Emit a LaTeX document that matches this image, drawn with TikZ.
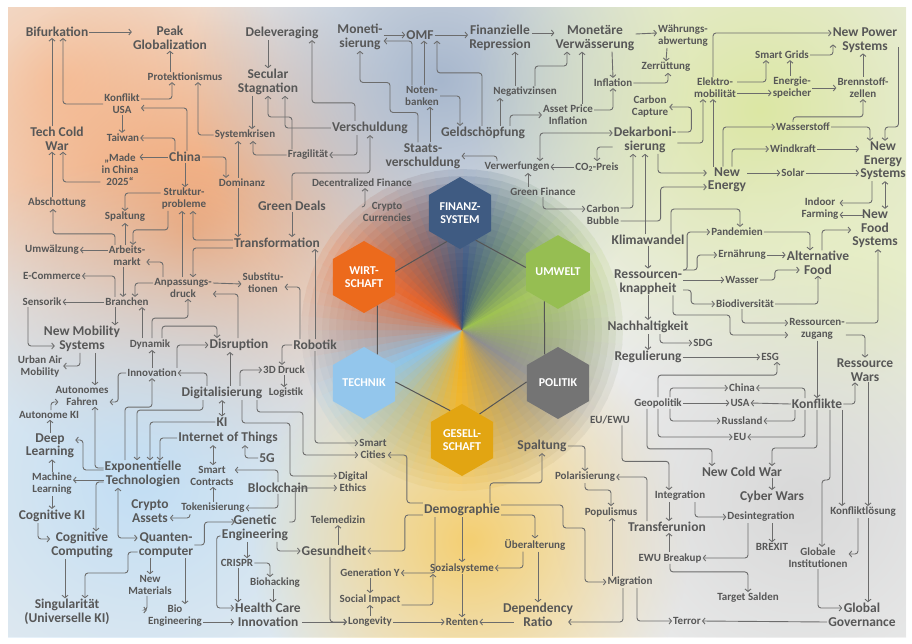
\documentclass[tikz,border=0pt]{standalone}
\usepackage{fontspec}
\setmainfont{Carlito}
\usetikzlibrary{arrows.meta,shapes.geometric,fadings}
\definecolor{txtc}{HTML}{575757}
\definecolor{linec}{HTML}{6C6C6C}
\definecolor{ringc}{HTML}{555555}
\definecolor{bgbase}{HTML}{EDEEEE}
\definecolor{pchc}{HTML}{F6C7A6}
\definecolor{orgc}{HTML}{F2A06A}
\definecolor{bgrc}{HTML}{A7B7CD}
\definecolor{ylgc}{HTML}{DCE7A4}
\definecolor{plgc}{HTML}{E6EEC4}
\definecolor{lblc}{HTML}{C2DEF4}
\definecolor{ylwc}{HTML}{F4CF72}
\definecolor{gryc}{HTML}{D8D8D8}
\definecolor{finc}{HTML}{3F5B82}
\definecolor{wirtc}{HTML}{EC6A1C}
\definecolor{umwc}{HTML}{96BE52}
\definecolor{techc}{HTML}{93C6EC}
\definecolor{polc}{HTML}{747474}
\definecolor{gesc}{HTML}{E2A512}
\definecolor{sbblue}{HTML}{2E4B78}
\definecolor{sbgreen}{HTML}{9CC24A}
\definecolor{sbgrey}{HTML}{8C8C8C}
\definecolor{sbyellow}{HTML}{F2B21A}
\definecolor{sblblue}{HTML}{86C3EC}
\definecolor{sborange}{HTML}{EC5A1A}
\newcommand{\smfont}{\fontsize{11}{12}\selectfont\bfseries}
\newcommand{\lgfont}{\fontsize{13.5}{13.5}\selectfont\bfseries}
\newcommand{\hxfont}{\fontsize{12}{12.5}\selectfont\bfseries}
\tikzfading[name=blobfade, inner color=transparent!0, outer color=transparent!100]

\begin{document}
\begin{tikzpicture}[x=1pt,y=-1pt,>={Straight Barb[length=2.5pt,width=6pt]},
	sml/.style={font=\smfont, text=txtc, align=center, inner sep=1pt},
	lrg/.style={font=\lgfont, text=txtc, align=center, inner sep=1pt},
	arr/.style={draw=linec, line width=0.9pt, rounded corners=3pt, ->},
	dbl/.style={draw=linec, line width=0.9pt, rounded corners=3pt, <->},
	hexa/.style={regular polygon, regular polygon sides=6, shape border rotate=30,
		minimum size=72pt, inner sep=0pt, text=white, font=\hxfont, align=center},
	ring/.style={draw=ringc, line width=1pt},
	blob/.style={path fading=blobfade}]
	\useasboundingbox (0,0) rectangle (912,643);
	\fill[white] (0,0) rectangle (912,643);
	% background
	\begin{scope}
		\clip (8,7) rectangle (906,637);
		\fill[bgbase] (8,7) rectangle (906,637);
		\fill[pchc, blob] (60,80) circle (220pt);
		\fill[orgc, blob] (190,230) circle (260pt);
		\fill[bgrc, blob] (440,80) circle (250pt);
		\fill[ylgc, blob] (760,110) circle (290pt);
		\fill[plgc, blob] (860,300) circle (190pt);
		\fill[lblc, blob] (140,480) circle (320pt);
		\fill[ylwc, blob] (470,540) circle (220pt);
		\fill[gryc, blob] (800,500) circle (250pt);
		% colour wheel in the middle
		\foreach \rr in {7,14,...,161}{
			\begin{scope}[transparency group, opacity=0.13]
				\foreach \ca/\cb/\st in {sbblue/sbgreen/-90, sbgreen/sbgrey/-30, sbgrey/sbyellow/30,
					sbyellow/sblblue/90, sblblue/sborange/150, sborange/sbblue/210}{
					\foreach \j in {0,...,11}{
						\pgfmathsetmacro{\pc}{100-\j*100/12}
						\pgfmathsetmacro{\aa}{\st+\j*5}
						\pgfmathsetmacro{\ab}{\aa+5.6}
						\fill[\ca!\pc!\cb] (462,330) -- +(\aa:\rr) -- +(\ab:\rr) -- cycle;
					}
				}
			\end{scope}
		}
	\end{scope}

	% hexagons
	\node[hexa, fill=finc] (finanz) at (460,213) {FINANZ-\\SYSTEM};
	\node[hexa, fill=wirtc] (wirt) at (364,277) {WIRT-\\SCHAFT};
	\node[hexa, fill=umwc] (umwelt) at (558,272) {UMWELT};
	\node[hexa, fill=techc] (technik) at (364,383) {TECHNIK};
	\node[hexa, fill=polc] (politik) at (558,383) {POLITIK};
	\node[hexa, fill=gesc] (gesell) at (462,440) {GESELL-\\SCHAFT};
	\draw[ring] (wirt.10) -- (finanz.-115);
	\draw[ring] (finanz.-60) -- (umwelt.172);
	\draw[ring] (wirt.-65) -- (technik.65);
	\draw[ring] (umwelt.-115) -- (politik.115);
	\draw[ring] (technik.2) -- (gesell.112);
	\draw[ring] (politik.178) -- (gesell.56);

	% top left
	\node[lrg] (bifurk) at (57,32) {Bifurkation};
	\node[lrg] (peak) at (170,38) {Peak\\Globalization};
	\node[sml] (protek) at (185,77) {Protektionismus};
	\node[sml] (konflikt) at (122,104) {Konflikt\\USA};
	\node[sml] (taiwan) at (123,138) {Taiwan};
	\node[lrg] (techcw) at (57,139) {Tech Cold\\War};
	\node[sml] (madein) at (120,170) {„Made\\in China\\2025“};
	\node[lrg] (china) at (185,157) {China};
	\node[sml] (struktur) at (184,199) {Struktur-\\probleme};
	\node[sml] (abschott) at (57,203) {Abschottung};
	\node[sml] (spaltL) at (125,217) {Spaltung};
	\node[sml] (systemk) at (245,135) {Systemkrisen};
	\node[sml] (dominanz) at (242,183) {Dominanz};
	\node[lrg] (delev) at (282,33) {Deleveraging};
	\node[lrg] (secular) at (268,82) {Secular\\Stagnation};
	\node[sml] (fragil) at (308,155) {Fragilität};
	\node[lrg] (verschuld) at (370,128) {Verschuldung};
	\node[lrg] (greendeals) at (292,206) {Green Deals};
	\node[sml] (defi) at (362,183) {Decentralized Finance};
	\node[sml] (crypto) at (387,212) {Crypto\\Currencies};

	% top middle
	\node[lrg] (moneti) at (360,37) {Moneti-\\sierung};
	\node[lrg] (omf) at (420,35) {OMF};
	\node[sml] (notenb) at (422,96) {Noten-\\banken};
	\node[lrg] (staats) at (423,156) {Staats-\\verschuldung};
	\node[lrg] (geld) at (483,133) {Geldschöpfung};
	\node[lrg] (finrep) at (500,38) {Finanzielle\\Repression};
	\node[sml] (negativ) at (525,92) {Negativzinsen};
	\node[lrg] (monver) at (595,38) {Monetäre\\Verwässerung};
	\node[sml] (asset) at (568,115) {Asset Price\\Inflation};
	\node[sml] (inflation) at (613,83) {Inflation};
	\node[sml] (waehr) at (683,36) {Währungs-\\abwertung};
	\node[sml] (zerr) at (666,67) {Zerrüttung};
	\node[sml] (carbcap) at (650,107) {Carbon\\Capture};
	\node[lrg] (dekarb) at (645,140) {Dekarboni-\\sierung};
	\node[sml] (co2) at (597,167) {CO\textsubscript{2}-Preis};
	\node[sml] (verwerf) at (517,167) {Verwerfungen};
	\node[sml] (greenfin) at (543,192) {Green Finance};
	\node[sml] (carbbub) at (603,215) {Carbon\\Bubble};

	% top right
	\node[lrg] (newpower) at (865,40) {New Power\\Systems};
	\node[sml] (elektro) at (715,88) {Elektro-\\mobilität};
	\node[sml] (smartgrids) at (782,55) {Smart Grids};
	\node[sml] (energiesp) at (792,88) {Energie-\\speicher};
	\node[sml] (brenn) at (863,88) {Brennstoff-\\zellen};
	\node[sml] (wasserst) at (803,127) {Wasserstoff};
	\node[sml] (windkraft) at (793,149) {Windkraft};
	\node[sml] (solar) at (793,173) {Solar};
	\node[lrg] (newenergy) at (727,180) {New\\Energy};
	\node[lrg] (newenergysys) at (883,161) {New\\Energy\\Systems};
	\node[sml] (indoor) at (820,209) {Indoor\\Farming};
	\node[lrg] (newfood) at (875,229) {New\\Food\\Systems};

	% right
	\node[lrg] (klima) at (648,240) {Klimawandel};
	\node[sml] (pandemien) at (737,232) {Pandemien};
	\node[sml] (ernaehrung) at (742,255) {Ernährung};
	\node[lrg] (altfood) at (818,263) {Alternative\\Food};
	\node[lrg] (ressknapp) at (648,282) {Ressourcen-\\knappheit};
	\node[sml] (wasser) at (742,280) {Wasser};
	\node[sml] (biodiv) at (745,304) {Biodiversität};
	\node[sml] (resszug) at (817,329) {Ressourcen-\\zugang};
	\node[lrg] (nachhalt) at (648,327) {Nachhaltigkeit};
	\node[sml] (sdg) at (703,343) {SDG};
	\node[lrg] (regul) at (648,357) {Regulierung};
	\node[sml] (esg) at (770,357) {ESG};
	\node[lrg] (resswars) at (865,370) {Ressource\\Wars};
	\node[sml] (geopol) at (658,403) {Geopolitik};
	\node[sml] (chinaR) at (742,388) {China};
	\node[sml] (usa) at (740,403) {USA};
	\node[sml] (russland) at (742,421) {Russland};
	\node[sml] (eu) at (740,437) {EU};
	\node[lrg] (konflikte) at (817,404) {Konflikte};
	\node[sml] (euewu) at (610,420) {EU/EWU};
	\node[lrg] (newcold) at (742,472) {New Cold War};
	\node[lrg] (cyber) at (772,497) {Cyber Wars};
	\node[sml] (konflos) at (863,512) {Konfliktlösung};
	\node[sml] (integration) at (680,496) {Integration};
	\node[lrg] (transfer) at (667,527) {Transferunion};
	\node[sml] (desint) at (761,517) {Desintegration};
	\node[sml] (brexit) at (772,547) {BREXIT};
	\node[sml] (ewubreak) at (670,558) {EWU Breakup};
	\node[sml] (target) at (748,598) {Target Salden};
	\node[sml] (globinst) at (818,558) {Globale\\Institutionen};
	\node[lrg] (globgov) at (862,615) {Global\\Governance};
	\node[sml] (terror) at (687,621) {Terror};

	% bottom middle
	\node[lrg] (spaltR) at (542,446) {Spaltung};
	\node[sml] (polar) at (585,477) {Polarisierung};
	\node[sml] (populismus) at (611,512) {Populismus};
	\node[lrg] (demogr) at (462,510) {Demographie};
	\node[sml] (ueberalt) at (535,545) {Überalterung};
	\node[sml] (sozial) at (462,568) {Sozialsysteme};
	\node[sml] (renten) at (462,622) {Renten};
	\node[lrg] (depratio) at (538,615) {Dependency\\Ratio};
	\node[sml] (migration) at (630,582) {Migration};
	\node[sml] (smartcities) at (373,449) {Smart\\Cities};
	\node[sml] (digethics) at (353,482) {Digital\\Ethics};
	\node[lrg] (gesundheit) at (334,551) {Gesundheit};
	\node[sml] (telemed) at (338,520) {Telemedizin};
	\node[sml] (generationy) at (370,573) {Generation Y};
	\node[sml] (socialimp) at (370,599) {Social Impact};
	\node[sml] (longevity) at (370,622) {Longevity};

	% bottom left
	\node[lrg] (genetic) at (255,528) {Genetic\\Engineering};
	\node[sml] (crispr) at (237,563) {CRISPR};
	\node[sml] (biohack) at (275,583) {Biohacking};
	\node[lrg] (healthcare) at (268,615) {Health Care\\Innovation};
	\node[lrg] (blockchain) at (278,488) {Blockchain};
	\node[sml] (smartcontr) at (212,476) {Smart\\Contracts};
	\node[sml] (tokenis) at (213,508) {Tokenisierung};
	\node[lrg] (cryptoassets) at (150,511) {Crypto\\Assets};
	\node[lrg] (iot) at (228,438) {Internet of Things};
	\node[lrg] (fiveg) at (267,458) {5G};
	\node[lrg] (ki) at (222,422) {KI};
	\node[lrg] (digital) at (222,393) {Digitalisierung};
	\node[lrg] (expo) at (143,474) {Exponentielle\\Technologien};
	\node[sml] (innovation) at (152,373) {Innovation};
	\node[sml] (dynamik) at (150,344) {Dynamik};
	\node[lrg] (disruption) at (239,345) {Disruption};
	\node[lrg] (robotik) at (315,345) {Robotik};
	\node[sml] (druck3d) at (284,370) {3D Druck};
	\node[sml] (logistik) at (286,393) {Logistik};
	\node[sml] (substit) at (263,283) {Substitu-\\tionen};
	\node[lrg] (transform) at (277,243) {Transformation};
	\node[sml] (arbeitsm) at (127,256) {Arbeits-\\markt};
	\node[sml] (umwaelz) at (52,250) {Umwälzung};
	\node[sml] (anpass) at (183,288) {Anpassungs-\\druck};
	\node[sml] (ecommerce) at (52,276) {E-Commerce};
	\node[sml] (branchen) at (127,302) {Branchen};
	\node[sml] (sensorik) at (42,302) {Sensorik};
	\node[lrg] (newmob) at (82,339) {New Mobility\\Systems};
	\node[sml] (urbanair) at (40,366) {Urban Air\\Mobility};
	\node[sml] (autofahr) at (82,396) {Autonomes\\Fahren};
	\node[sml] (autoki) at (49,415) {Autonome KI};
	\node[lrg] (deeplearn) at (50,446) {Deep\\Learning};
	\node[sml] (machlearn) at (52,484) {Machine\\Learning};
	\node[lrg] (cogki) at (52,516) {Cognitive KI};
	\node[lrg] (cogcomp) at (82,545) {Cognitive\\Computing};
	\node[lrg] (singular) at (67,612) {Singularität\\(Universelle KI)};
	\node[lrg] (quanten) at (166,545) {Quanten-\\computer};
	\node[sml] (newmat) at (150,585) {New\\Materials};
	\node[sml] (bioeng) at (175,616) {Bio\\Engineering};

	% connectors top left
	\draw[arr] (bifurk.east) -- (bifurk.east -| peak.west);
	\draw[arr] (protek.north -| peak.south) -- (peak.south);
	\draw[arr] ([xshift=-5pt]techcw.north) -- ([xshift=-5pt]bifurk.south);
	\draw[arr] (konflikt.west) -| ([xshift=6pt]bifurk.south);
	\draw[arr] ([yshift=5pt]konflikt.east) -| ([xshift=-13pt]protek.south);
	\draw[arr] ([xshift=2pt]china.north) |- ([yshift=-4pt]konflikt.east);
	\draw[arr] ([xshift=-10pt]china.north) |- (taiwan.east);
	\draw[arr] (konflikt.south) -- (konflikt.south |- taiwan.north);
	\draw[arr] (china.west) -- (china.west -| madein.east);
	\draw[arr] ([yshift=-12pt]madein.west) -| ([xshift=6pt]techcw.south);
	\draw[arr] ([xshift=-5pt]abschott.north) -- ([xshift=-5pt]techcw.south);
	\draw[arr] (china.south) -- (china.south |- struktur.north);
	\draw[arr] (china.east) -| ([xshift=-16pt]dominanz.north);
	\draw[arr] (systemk.west) -| ([xshift=13pt]protek.south);
	\draw[arr] ([xshift=-4pt]dominanz.north) -- ([xshift=-7pt]systemk.south);
	\draw[arr] ([xshift=-16pt]secular.south) -- ([xshift=7pt]systemk.north);
	\draw[arr] (fragil.west) -| ([xshift=8pt]systemk.south);
	\draw[arr] ([xshift=-16pt]fragil.north) -- ++(0,-32) -| (secular.south);
	\draw[arr] (verschuld.west) -| ([xshift=17pt]secular.south);
	\draw[arr] ([xshift=-15pt]verschuld.north) -- ++(0,-18) -| ([xshift=30pt]delev.south);
	\draw[arr] ([xshift=-13pt]verschuld.south) |- (fragil.east);
	\draw[arr] (greendeals.north) -- ++(0,-27) -| (verschuld.south);
	\draw[arr] (delev.south -| secular.north) -- (secular.north);
	\draw[arr] ([yshift=5pt]crypto.west) -| ([xshift=3pt]defi.south);

	% connectors top middle
	\draw[arr] (moneti.east |- omf.west) -- (omf.west);
	\draw[arr] ([xshift=-10pt]notenb.north) |- ([yshift=-4pt]moneti.east);
	\draw[arr] ([xshift=2pt]notenb.north) -- ([xshift=4pt]omf.south);
	\draw[arr] ([xshift=-1pt]geld.north) -- ++(0,-53) -| ([xshift=17pt]omf.south);
	\draw[arr] (notenb.east) -| ([xshift=-23pt]geld.north);
	\draw[arr] ([xshift=-5pt]staats.north) -- ++(0,-30) -- ++(-28,0) -- ++(0,-30) -| (moneti.south);
	\draw[arr] ([xshift=7pt]staats.north) -- ([xshift=8pt]notenb.south);
	\draw[arr] ([xshift=-20pt]verwerf.north) |- (staats.east);
	\draw[arr] ([xshift=17pt]geld.north) -- ([xshift=-25pt]negativ.south);
	\draw[arr] ([xshift=-10pt]negativ.north) -- ([xshift=15pt]finrep.south);
	\draw[arr] (omf.east) -- (omf.east -| finrep.west);
	\draw[arr] ([yshift=5pt]finrep.east) -- ([yshift=5pt]monver.west);
	\draw[arr] ([xshift=10pt]negativ.north) -- ++(0,-20) -| ([xshift=-28pt]monver.south);
	\draw[arr] ([xshift=14pt]asset.north) -- ([xshift=-13pt]monver.south);
	\draw[arr] ([xshift=27pt]geld.north) |- (asset.west);
	\draw[arr] ([xshift=17pt]monver.south) -- (inflation.north);
	\draw[arr] ([yshift=5pt]asset.east) -| (inflation.south);
	\draw[arr] (inflation.east) -| ([xshift=2pt]zerr.south);
	\draw[arr] ([yshift=4pt]monver.east) -- ([yshift=3pt]waehr.west);
	\draw[arr] ([xshift=-16pt]waehr.south) -- (zerr.north);
	\draw[arr] ([yshift=8pt]dekarb.east) -- ++(14,0) |- (carbcap.east);
	\draw[arr] ([yshift=-3pt]dekarb.east) -| ([xshift=-12pt]elektro.south);
	\draw[dbl] ([xshift=23pt]verwerf.north) |- ([yshift=7pt]dekarb.west);
	\draw[arr] ([yshift=-7pt]dekarb.west) -| (co2.north);
	\draw[arr] (co2.west) -- (verwerf.east);
	\draw[arr] ([xshift=-15pt]greenfin.north) -- ([xshift=11pt]verwerf.south);
	\draw[arr] (greenfin.south) |- ([yshift=6pt]carbbub.west);
	\draw[arr] ([yshift=7pt]carbbub.east) -| ([xshift=-12pt]dekarb.south);
	\draw[arr] ([xshift=-3pt]klima.north) -- (dekarb.south);
	\draw[arr] ([xshift=13pt]dekarb.south) |- ([yshift=7pt]newenergy.west);
	\draw[arr] ([yshift=-6pt]carbbub.east) -- ++(40,0) |- ([yshift=-7pt]newenergy.west);
	\draw[arr] ([xshift=23pt]klima.north) -- ++(0,-25) -| ([xshift=3pt]pandemien.north);

	% connectors top right
	\draw[arr] ([xshift=-14pt]newenergy.north) -- ([xshift=-2pt]elektro.south);
	\draw[arr] ([xshift=-2pt]elektro.north) |- ([yshift=7pt]newpower.west);
	\draw[arr] ([yshift=6pt]elektro.east) -| ([xshift=-16pt]smartgrids.south);
	\draw[arr] ([xshift=-2pt]energiesp.north) -- ([xshift=8pt]smartgrids.south);
	\draw[arr] ([yshift=-5pt]elektro.east) -- ([yshift=-5pt]energiesp.west);
	\draw[arr] (smartgrids.east) -| ([xshift=-32pt,yshift=9pt]newpower.south);
	\draw[arr] (energiesp.east) -- (brenn.west);
	\draw[arr] (brenn.north) -- (brenn.north |- newpower.south);
	\draw[arr] ([xshift=-10pt]wasserst.north) -- ++(0,-5) -| (brenn.south);
	\draw[arr] ([yshift=-7pt]newpower.east) -- ++(0,80) -| ([xshift=2pt]newenergysys.north);
	\draw[arr] (wasserst.east) -| ([xshift=-13pt]newenergysys.north);
	\draw[arr] ([xshift=-4pt]newenergy.north) |- (wasserst.west);
	\draw[arr] ([xshift=5pt]newenergy.north) |- (windkraft.west);
	\draw[arr] (windkraft.east) -- (windkraft.east -| newenergysys.west);
	\draw[arr] ([yshift=7pt]newenergy.east) -- (solar.west);
	\draw[arr] (solar.east) -- (solar.east -| newenergysys.west);
	\draw[arr] ([xshift=-11pt]newenergysys.south) |- ([yshift=6pt]indoor.east);
	\draw[dbl] ([xshift=2pt]newenergysys.south) -- ([xshift=10pt]newfood.north);
	\draw[arr] ([xshift=13pt,yshift=14pt]newfood.west) -- ([yshift=-6pt]indoor.east);

	% connectors right
	\draw[arr] (pandemien.east) -| ([xshift=-8pt]altfood.north);
	\draw[arr] ([xshift=4pt]altfood.north) |- ([yshift=-1pt]newfood.west);
	\draw[arr] ([yshift=12pt]ressknapp.east) -- ++(4,0) |- (pandemien.west);
	\draw[arr] ([yshift=12pt]ressknapp.east) -- ++(14,0) |- (ernaehrung.west);
	\draw[arr] ([yshift=2pt]ressknapp.east) -- (wasser.west);
	\draw[arr] ([yshift=-8pt]ressknapp.east) -- ++(8,0) |- (biodiv.west);
	\draw[arr] (ernaehrung.east) -- (ernaehrung.east -| altfood.west);
	\draw[arr] (wasser.east) -- ++(15,0) |- ([xshift=14pt,yshift=-7pt]altfood.west);
	\draw[arr] (biodiv.east) -| (altfood.south);
	\draw[arr] ([xshift=-3pt]biodiv.south) |- ([yshift=6pt]resszug.west);
	\draw[arr] ([yshift=6pt]resszug.east) -| ([xshift=3pt]newfood.south);
	\draw[arr] (klima.south) -- (ressknapp.north);
	\draw[arr] (ressknapp.south) -- (nachhalt.north);
	\draw[arr] ([xshift=25pt]ressknapp.south) |- (730,315) |- ([yshift=-6pt]resszug.west);
	\draw[arr] ([xshift=12pt]nachhalt.south) |- (sdg.west);
	\draw[arr] (nachhalt.south) -- (regul.north);
	\draw[arr] (regul.east) -- (esg.west);
	\draw[arr] (geopol.north) -- ++(0,-22) -| ([xshift=7pt]esg.south);
	\draw[arr] ([xshift=12pt]geopol.north) |- (chinaR.west);
	\draw[arr] (geopol.east) -- (usa.west);
	\draw[arr] ([xshift=12pt]geopol.south) |- (russland.west);
	\draw[arr] (geopol.south) |- (eu.west);
	\draw[arr] ([xshift=-11pt]geopol.south) -- ++(0,40) -| ([xshift=-30pt]newcold.north);
	\draw[arr] ([xshift=-12pt]konflikte.north) |- (chinaR.east);
	\draw[arr] (konflikte.west) -- (usa.east);
	\draw[arr] ([xshift=-22pt]konflikte.south) |- (russland.east);
	\draw[arr] ([xshift=-12pt]konflikte.south) |- (eu.east);
	\draw[arr] (resszug.south) -- (resszug.south |- konflikte.north);
	\draw[arr] ([yshift=-6pt]resszug.east) -| (resswars.north);
	\draw[arr] (konflikte.east) -| ([xshift=-10pt]resswars.south);
	\draw[arr] (konflikte.south) -- ++(0,38) -| ([xshift=30pt]newcold.north);
	\draw[arr] ([xshift=13pt]konflikte.south) |- (822,480) -- ([xshift=4pt]globinst.north);
	\draw[arr] ([xshift=25pt]konflikte.south) -- ([xshift=-21pt]konflos.north);
	\draw[arr] ([xshift=3pt]resswars.south) -- ([xshift=5pt]konflos.north);
	\draw[arr] ([xshift=5pt]konflos.south) -- ([xshift=6pt]globgov.north);
	\draw[arr] ([xshift=-5pt]konflos.south) |- ([yshift=4pt]globinst.east);
	\draw[arr] (globinst.south) |- ([xshift=15pt,yshift=7pt]globgov.west);
	\draw[arr] ([yshift=-7pt]globgov.west) -- (terror.east);
	\draw[arr] ([xshift=30pt]newcold.south) -- (cyber.north);
	\draw[arr] ([xshift=12pt]euewu.south) -- ++(0,36) -| ([xshift=-11pt]integration.north);
	\draw[arr] ([xshift=-11pt]integration.south) -- ([xshift=2pt]transfer.north);
	\draw[arr] ([xshift=-20pt]transfer.north) |- (polar.east);
	\draw[arr] ([xshift=15pt]integration.south) |- (desint.west);
	\draw[arr] ([xshift=11pt]desint.south) -- (brexit.north);
	\draw[arr] ([xshift=-13pt]desint.south) |- (ewubreak.east);
	\draw[arr] ([xshift=-1pt]ewubreak.north) -- ([xshift=2pt]transfer.south);
	\draw[arr] (ewubreak.south) -- ++(0,8) -| (target.north);

	% connectors bottom middle
	\draw[arr] (spaltR.east) -| (polar.north);
	\draw[arr] ([xshift=28pt]demogr.north) -- ++(0,-20) -| (spaltR.south);
	\draw[arr] (polar.south) -- ++(0,7) -| (populismus.north);
	\draw[arr] ([xshift=-18pt]migration.north) -- ([xshift=1pt]populismus.south);
	\draw[arr] ([yshift=5pt]demogr.east) -| (563,528) -| (585,560) |- (migration.west);
	\draw[arr] ([yshift=-5pt]demogr.east) -| (ueberalt.north);
	\draw[arr] ([xshift=-12pt]ueberalt.south) |- (sozial.east);
	\draw[arr] (demogr.south) -- (sozial.north);
	\draw[arr] (sozial.south) -- (renten.north);
	\draw[arr] ([xshift=3pt]ueberalt.south) -- (depratio.north);
	\draw[arr] ([xshift=12pt,yshift=-7pt]depratio.west) -- (renten.east);
	\draw[arr] ([xshift=-7pt]migration.south) |- ([xshift=-6pt,yshift=-7pt]depratio.east);
	\draw[arr] ([xshift=7pt]migration.south) |- (terror.west);
	\draw[arr] ([yshift=7pt]demogr.west) -- ++(-16,0) |- ([yshift=-6pt]smartcities.east);
	\draw[arr] ([yshift=-5pt]demogr.west) -- ++(-18,0) |- (gesundheit.east);
	\draw[arr] ([xshift=-27pt]demogr.south) |- (generationy.east);
	\draw[arr] ([xshift=4pt]gesundheit.north) -- (telemed.south);
	\draw[arr] ([xshift=-4pt]gesundheit.south) |- (longevity.west);
	\draw[arr] ([yshift=-7pt]healthcare.east) -- (longevity.west);
	\draw[arr] (longevity.north) -- (socialimp.south);
	\draw[arr] (generationy.south) -- (socialimp.north);
	\draw[arr] ([yshift=-6pt]socialimp.east) -| ([xshift=-29pt]sozial.south);
	\draw[arr] (longevity.east) -- (renten.west);

	% connectors bottom left
	\draw[arr] ([yshift=6pt]genetic.east) -- ++(6,0) |- ([yshift=-6pt]digethics.west);
	\draw[arr] ([xshift=22pt]genetic.south) |- (gesundheit.west);
	\draw[arr] ([xshift=-8pt]genetic.south) -- ([xshift=10pt]crispr.north);
	\draw[arr] (crispr.east) -| ([xshift=-5pt]biohack.north);
	\draw[arr] ([xshift=1pt]crispr.south) -- ([xshift=-30pt]healthcare.north);
	\draw[arr] ([xshift=-2pt]biohack.south) -- ([xshift=5pt]healthcare.north);
	\draw[arr] ([yshift=-6pt]bioeng.east) -- ([yshift=-7pt]healthcare.west);
	\draw[arr] (quanten.east) -- ++(10,0) |- ([xshift=14pt,yshift=6pt]genetic.west);
	\draw[arr] ([yshift=-8pt]genetic.west) -- ++(-4,0) |- ([yshift=7pt]healthcare.west);
	\draw[arr] (quanten.south -| newmat.north) -- (newmat.north);
	\draw[arr] ([xshift=-3pt]newmat.south) |- ([yshift=6pt]bioeng.west);
	\draw[arr] ([xshift=19pt]quanten.south) -- ([xshift=10pt]bioeng.north);
	\draw[arr] (robotik.south) |- ([yshift=6pt]smartcities.west);
	\draw[arr] ([xshift=35pt]digital.south) |- (303,412) |- ([yshift=-6pt]smartcities.west);
	\draw[arr] ([xshift=20pt]digital.south) |- (290,423) |- ([yshift=6pt]digethics.west);
	\draw[arr] (robotik.west) -| ([xshift=-2pt]druck3d.north);
	\draw[arr] (druck3d.south) -- (druck3d.south |- logistik.north);
	\draw[arr] ([xshift=18pt]digital.north) |- (druck3d.west);
	\draw[arr] ([xshift=-15pt]robotik.north) |- ([yshift=-4pt]substit.east);
	\draw[arr] (robotik.north) -- (robotik.north |- transform.south);
	\draw[arr] (greendeals.south) -- (greendeals.south |- transform.north);
	\draw[arr] ([xshift=-4pt]dominanz.south) -- ([xshift=-39pt]transform.north);
	\draw[arr] ([yshift=3pt]transform.west) -| ([xshift=9pt]struktur.south);
	\draw[arr] ([yshift=-5pt]transform.west) -| ([xshift=10pt]anpass.north);
	\draw[arr] ([xshift=-1pt]anpass.north) -- ([xshift=-2pt]struktur.south);
	\draw[arr] ([yshift=6pt]struktur.west) -| (spaltL.north);
	\draw[arr] ([xshift=-16pt]struktur.south) -- ++(0,19) -| ([xshift=6pt]arbeitsm.north);
	\draw[arr] ([xshift=-2pt]arbeitsm.north) -- (spaltL.south);
	\draw[arr] ([xshift=-12pt]arbeitsm.north) -- ++(0,-11) -| ([xshift=-4pt]abschott.south);
	\draw[arr] ([yshift=6pt]arbeitsm.west) -- (umwaelz.east);
	\draw[arr] ([xshift=-20pt]anpass.north) |- ([yshift=-6pt]arbeitsm.east);
	\draw[arr] ([xshift=-4pt]arbeitsm.south) -- ([xshift=-4pt]branchen.north);
	\draw[arr] ([xshift=-12pt]branchen.north) |- (ecommerce.east);
	\draw[arr] ([yshift=5pt]anpass.west) -| ([xshift=8pt]branchen.north);
	\draw[arr] ([yshift=5pt]anpass.east) -- ([yshift=-1pt]substit.west);
	\draw[arr] ([xshift=-1pt]disruption.north) |- ([yshift=-6pt]anpass.east);
	\draw[arr] (branchen.west) -- (sensorik.east);
	\draw[arr] ([xshift=-12pt]branchen.south) -- ([xshift=33pt]newmob.north);
	\draw[arr] ([xshift=-14pt]sensorik.south) |- ([xshift=12pt,yshift=-7pt]newmob.west);
	\draw[arr] ([xshift=-2pt]newmob.south) |- (urbanair.east);
	\draw[arr] ([xshift=13pt]newmob.south) -- ([xshift=13pt]autofahr.north);
	\draw[arr] (innovation.west) -- ++(-8,0) |- ([yshift=-6pt]autofahr.east);
	\draw[arr] ([xshift=2pt]autoki.north) |- ([xshift=4pt,yshift=-6pt]autofahr.west);
	\draw[arr] ([yshift=6pt]expo.west) -| ([xshift=13pt]autofahr.south);
	\draw[arr] ([yshift=4pt]expo.west) -| (83,440) -- ([yshift=6pt]deeplearn.east);
	\draw[arr] (deeplearn.north) -- (deeplearn.north |- autoki.south);
	\draw[arr] (machlearn.north) -- (machlearn.north |- deeplearn.south);
	\draw[arr] ([yshift=-6pt]expo.west) -- ([yshift=4pt]machlearn.east);
	\draw[arr] (machlearn.south) -- (machlearn.south |- cogki.north);
	\draw[arr] ([xshift=-14pt]cogki.south) |- ([yshift=6pt]cogcomp.west);
	\draw[arr] ([yshift=-8pt]expo.west) -| ([xshift=14pt]cogcomp.north);
	\draw[arr] ([xshift=-17pt]cogcomp.south) -- ([xshift=-2pt]singular.north);
	\draw[arr] ([yshift=-7pt]quanten.west) -| (128,573) -| ([xshift=18pt]singular.north);
	\draw[dbl] ([xshift=-25pt]expo.south) |- ([yshift=7pt]quanten.west);
	\draw[arr] ([xshift=-19pt]digital.south) -- ++(0,10) -| ([xshift=-6pt]expo.north);
	\draw[arr] (ki.west) -| ([xshift=7pt]expo.north);
	\draw[arr] (iot.west) -| ([xshift=17pt]expo.north);
	\draw[arr] ([xshift=-18pt]expo.north) -- ++(0,-53) -| (innovation.south);
	\draw[dbl] (digital.south) -- (ki.north);
	\draw[dbl] ([xshift=-15pt]iot.south) -- ([xshift=1pt]smartcontr.north);
	\draw[arr] (fiveg.west) -| ([xshift=17pt]iot.south);
	\draw[arr] (blockchain.north) |- ([yshift=6pt]smartcontr.east);
	\draw[arr] (blockchain.south) |- (tokenis.east);
	\draw[arr] (tokenis.north) -- (tokenis.north |- smartcontr.south);
	\draw[arr] ([xshift=-23pt]tokenis.south) |- ([yshift=-7pt]cryptoassets.east);
	\draw[arr] (innovation.north) -- (innovation.north |- dynamik.south);
	\draw[arr] ([xshift=-8pt]dynamik.north) -- ([xshift=15pt]branchen.south);
	\draw[arr] ([xshift=2pt]dynamik.north) -- ++(0,-20) -| ([xshift=5pt]anpass.south);
	\draw[arr] ([xshift=12pt]dynamik.north) -- ++(0,-12) -| ([xshift=-22pt]disruption.north);
	\draw[arr] ([xshift=25pt]innovation.north) |- (disruption.west);
	\draw[arr] ([xshift=-15pt]digital.north) |- (innovation.east);
	\draw[arr] ([xshift=8pt]digital.north) -- ([xshift=-9pt]disruption.south);
\end{tikzpicture}
\end{document}
